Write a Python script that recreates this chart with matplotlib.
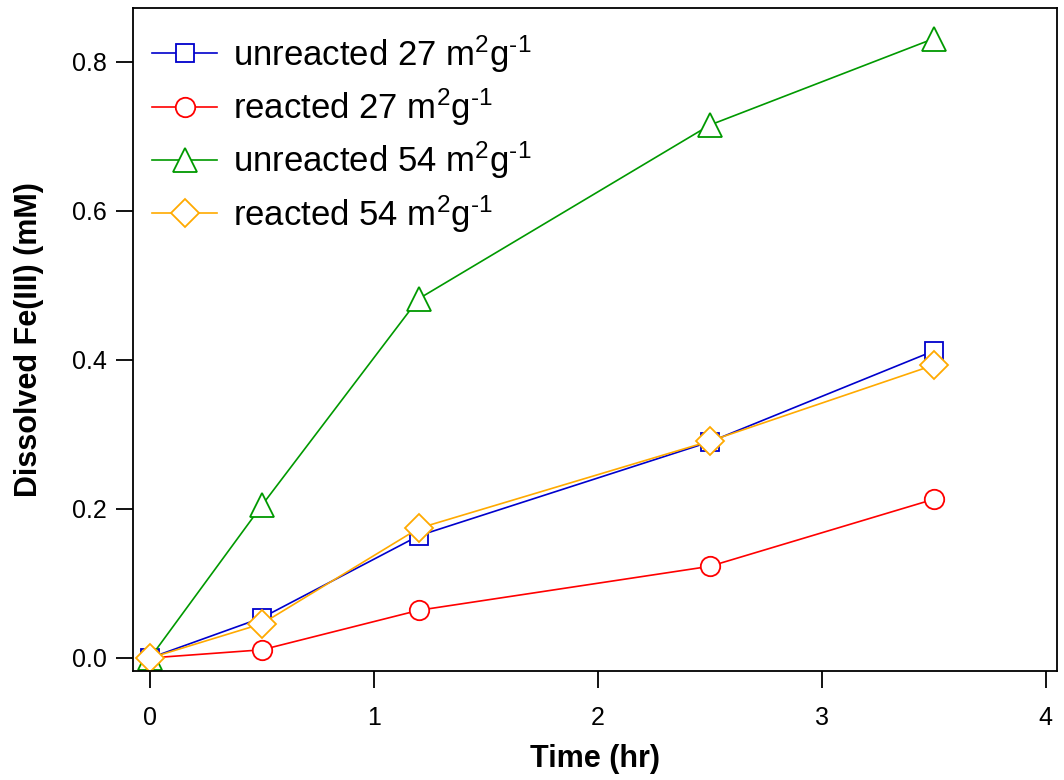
import matplotlib
matplotlib.use("Agg")
import matplotlib.pyplot as plt
import numpy as np

plt.rcParams['font.family'] = ['Liberation Sans', 'DejaVu Sans']
plt.rcParams['mathtext.fontset'] = 'custom'
plt.rcParams['mathtext.rm'] = 'Liberation Sans'
plt.rcParams['mathtext.it'] = 'Liberation Sans'

# data
time_hr = [0, 0.5, 1.2, 2.5, 3.5]
unreacted_27 = [0.0, 0.054, 0.164, 0.290, 0.412]
reacted_27 = [0.0, 0.011, 0.064, 0.123, 0.213]
unreacted_54 = [0.0, 0.205, 0.482, 0.715, 0.831]
reacted_54 = [0.0, 0.046, 0.174, 0.291, 0.393]
labels = [r'unreacted 27 m$^{2}$g$^{\text{-1}}$', r'reacted 27 m$^{2}$g$^{\text{-1}}$',
          r'unreacted 54 m$^{2}$g$^{\text{-1}}$', r'reacted 54 m$^{2}$g$^{\text{-1}}$']

fig = plt.figure(figsize=(10.64, 7.8), dpi=100)
ax = fig.add_axes([0.125, 0.1397, 0.8684, 0.85])

series = [unreacted_27, reacted_27, unreacted_54, reacted_54]
colors = ['#0000cc', '#ff0000', '#009900', '#ffaa00']
markers = ['s', 'o', '^', 'D']
msizes = [13, 14, 17, 14]
for y, c, m, ms, lab in zip(series, colors, markers, msizes, labels):
    ax.plot(time_hr, y, color=c, lw=1.2, marker=m, ms=ms, mfc='white',
            mec=c, mew=1.3, label=lab)

ax.set_xlim(-0.076, 4.05)
ax.set_ylim(-0.0175, 0.872)
ax.set_xticks([0, 1, 2, 3, 4])
ax.set_yticks([0.0, 0.2, 0.4, 0.6, 0.8])
ax.set_yticklabels(['0.0', '0.2', '0.4', '0.6', '0.8'])
ax.tick_params(direction='out', length=12, width=1.3, labelsize=18)
ax.tick_params(axis='x', pad=13)
ax.tick_params(axis='y', pad=7)
for s in ax.spines.values():
    s.set_linewidth(1.3)

ax.set_xlabel('Time (hr)', fontsize=22, fontweight='bold', labelpad=10)
ax.set_ylabel('Dissolved Fe(III) (mM)', fontsize=22, fontweight='bold', labelpad=20)

ax.legend(loc='upper left', frameon=False, fontsize=25, handlelength=1.87,
          handletextpad=0.46, labelspacing=0.34, borderaxespad=0.25,
          borderpad=0.3, bbox_to_anchor=(0.0, 0.991))

fig.savefig('out.png', dpi=100)
